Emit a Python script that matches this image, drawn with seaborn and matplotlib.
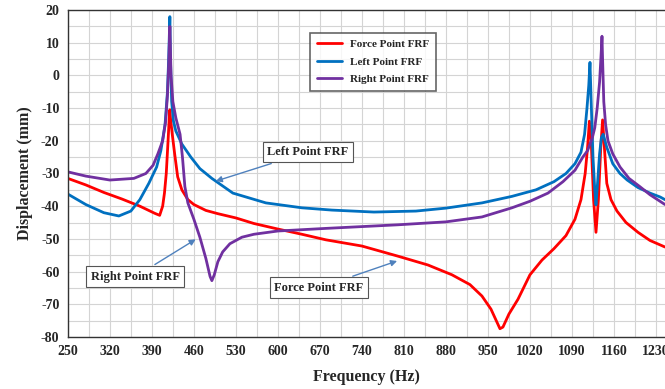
import numpy as np
import pandas as pd
import matplotlib
matplotlib.use('Agg')
import matplotlib.pyplot as plt
import seaborn as sns
from matplotlib.ticker import MultipleLocator, FixedLocator

# Force Point FRF
force_hz = [250, 280, 310, 340, 370, 395, 403, 408, 411, 414, 417, 419, 420, 421, 424, 428, 433, 440,
            450, 460, 480, 500, 530, 560, 600, 640, 680, 740, 800, 850, 890, 920, 940, 955, 965, 970,
            975, 985, 1000, 1020, 1040, 1060, 1080, 1095, 1105, 1112, 1116, 1119, 1122, 1126, 1130,
            1134, 1138, 1141, 1144, 1148, 1155, 1165, 1180, 1200, 1220, 1245]
force_mm = [-31.5, -33.5, -35.8, -37.8, -40, -42.2, -42.8, -40, -36, -30, -20, -13, -10.5, -13, -18, -24,
            -31, -35, -38, -39.5, -41.3, -42.3, -43.6, -45.3, -47, -48.6, -50.3, -52.2, -55.3, -58, -61,
            -64, -67.5, -71.5, -75.5, -77.5, -77, -73, -68.5, -61, -56.5, -53, -49, -44, -38, -30, -22,
            -14, -20, -38, -48, -38, -22, -13.6, -22, -33, -38, -41.5, -45, -48, -50.5, -52.5]

# Left Point FRF
left_hz = [250, 280, 310, 335, 355, 370, 385, 398, 405, 412, 416, 418, 420, 421, 423, 426, 430, 440,
           455, 470, 490, 525, 580, 640, 690, 760, 830, 880, 940, 990, 1030, 1060, 1080, 1095, 1105,
           1111, 1115, 1118, 1120, 1122, 1125, 1128, 1130, 1133, 1136, 1139, 1142, 1148, 1158, 1170,
           1182, 1200, 1220, 1237, 1245]
left_mm = [-36.3, -39.5, -42, -43, -41.5, -38, -33, -28, -23, -15, -5, 5, 18, 5, -8, -14, -17, -21,
           -25, -28.5, -31.5, -36, -39, -40.5, -41.2, -41.8, -41.5, -40.6, -39, -37, -35, -32.5, -30,
           -27, -23.5, -18, -10, -3, 4, -8, -25, -35, -39.6, -32, -24, -19, -18, -22, -27, -30,
           -32, -34.3, -36, -37.2, -38]

# Right Point FRF
right_hz = [250, 280, 320, 360, 380, 392, 400, 408, 413, 416, 418, 420, 422, 425, 430, 437, 441, 445,
            450, 460, 470, 480, 487, 490, 494, 500, 508, 520, 540, 560, 600, 680, 800, 880, 940, 990,
            1020, 1050, 1075, 1095, 1108, 1116, 1120, 1124, 1128, 1132, 1136, 1139, 1140, 1141, 1143,
            1146, 1150, 1158, 1170, 1185, 1203, 1220, 1245]
right_mm = [-29.5, -30.8, -32, -31.5, -30, -27.5, -24, -20, -14, -6, 3, 15, 0, -8, -13, -18, -25, -34,
            -39, -44, -49.5, -56, -61.5, -62.8, -61, -57, -54, -51.5, -49.5, -48.6, -47.6, -46.8,
            -45.7, -44.8, -43.3, -40.5, -38.5, -36, -32.5, -29, -25, -23, -21, -19, -16, -10, -2, 8,
            12, 5, -8, -15, -20, -24, -28, -31.5, -34, -36.5, -39.5]

series_names = ['Force Point FRF', 'Left Point FRF', 'Right Point FRF']
series_colors = ['#FF0000', '#0070C0', '#7030A0']
x_ticks = [250, 320, 390, 460, 530, 600, 670, 740, 810, 880, 950, 1020, 1090, 1160, 1230]

df = pd.concat([
    pd.DataFrame({'Frequency': force_hz, 'Displacement': force_mm, 'series': series_names[0]}),
    pd.DataFrame({'Frequency': left_hz, 'Displacement': left_mm, 'series': series_names[1]}),
    pd.DataFrame({'Frequency': right_hz, 'Displacement': right_mm, 'series': series_names[2]}),
])

sns.set_style('white')
plt.rcParams['font.family'] = ['Liberation Serif', 'DejaVu Serif']
plt.rcParams['font.weight'] = 'bold'
plt.rcParams['axes.unicode_minus'] = False

fig = plt.figure(figsize=(6.65, 3.89), dpi=100)
ax = fig.add_axes([0.102, 0.134, 0.898, 0.840])

sns.lineplot(data=df, x='Frequency', y='Displacement', hue='series', hue_order=series_names,
             palette=series_colors, sort=False, estimator=None, linewidth=2.0, ax=ax)

ax.set_xlim(250, 1245)
ax.set_ylim(-80, 20)
ax.xaxis.set_major_locator(FixedLocator(x_ticks))
ax.xaxis.set_minor_locator(FixedLocator([t + 35 for t in x_ticks]))
ax.yaxis.set_major_locator(MultipleLocator(10))
ax.yaxis.set_minor_locator(MultipleLocator(5))
ax.grid(which='both', color='#D4D4D4', linewidth=0.8)
ax.set_axisbelow(True)

for side in ['left', 'bottom', 'top']:
    ax.spines[side].set_color('#333333')
    ax.spines[side].set_linewidth(1.0)
ax.spines['right'].set_visible(False)
ax.tick_params(which='major', direction='out', length=4, color='#333333', labelsize=10, pad=2)
ax.tick_params(which='minor', length=0)
for lab in ax.get_xticklabels() + ax.get_yticklabels():
    lab.set_fontweight('bold')

ax.set_xlabel('Frequency (Hz)', fontsize=11.5, fontweight='bold', labelpad=8)
ax.set_ylabel('Displacement (mm)', fontsize=11.5, fontweight='bold', labelpad=6)

leg = ax.legend(loc='upper left', bbox_to_anchor=(0.397, 0.948), fontsize=8,
                frameon=True, fancybox=False, edgecolor='#404040', handlelength=2.2,
                borderpad=0.6, labelspacing=0.7)
leg.get_frame().set_linewidth(1.2)
for t in leg.get_texts():
    t.set_fontweight('bold')

box = dict(boxstyle='square,pad=0.35', fc='white', ec='#555555', lw=0.8)
arrow = dict(arrowstyle='-|>', color='#4F81BD', lw=1.0, mutation_scale=9)
ax.annotate('Left Point FRF', xy=(492, -32.6), xytext=(650, -23.4), fontsize=9, fontweight='bold',
            ha='center', va='center', bbox=box, arrowprops=arrow)
ax.annotate('Right Point FRF', xy=(467, -49.7), xytext=(362, -61.6), fontsize=9, fontweight='bold',
            ha='center', va='center', bbox=box, arrowprops=arrow)
ax.annotate('Force Point FRF', xy=(803, -56.5), xytext=(668, -65), fontsize=9, fontweight='bold',
            ha='center', va='center', bbox=box, arrowprops=arrow)

fig.savefig('out.png', dpi=100)
